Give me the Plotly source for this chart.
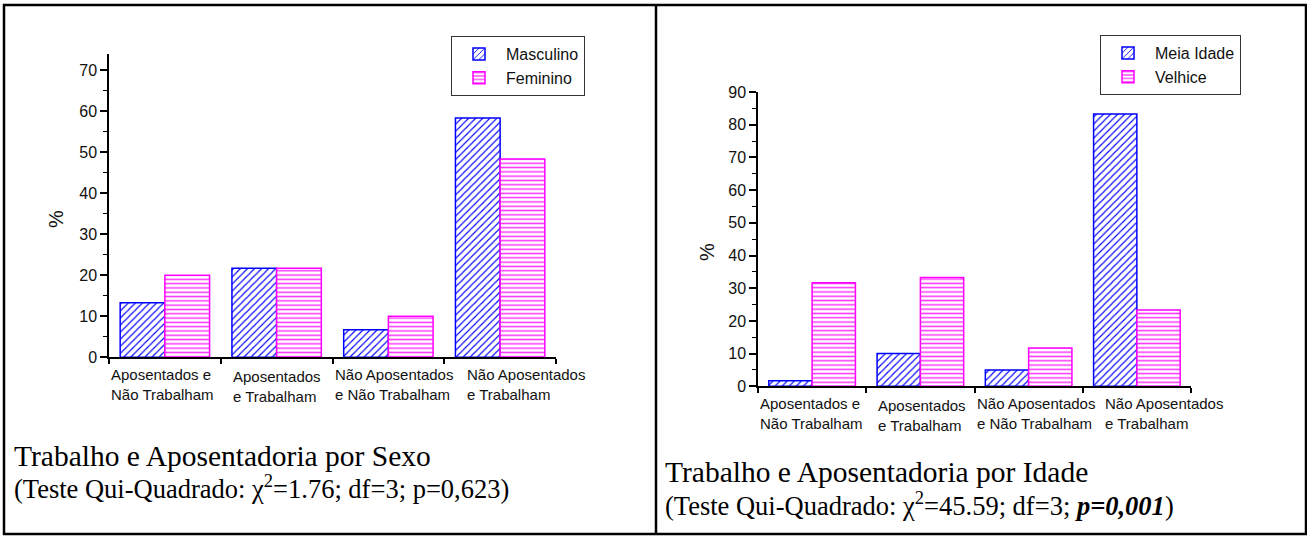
import plotly.graph_objects as go

# Situação de trabalho / aposentadoria (categorias do eixo x)
categorias = [
    "Aposentados e<br>Não Trabalham",
    "Aposentados<br>e Trabalham",
    "Não Aposentados<br>e Não Trabalham",
    "Não Aposentados<br>e Trabalham",
]

# Percentuais por sexo
masculino = [13.3, 21.7, 6.7, 58.3]
feminino = [20.0, 21.7, 10.0, 48.3]

# Percentuais por faixa etária
meia_idade = [1.7, 10.0, 5.0, 83.3]
velhice = [31.7, 33.3, 11.7, 23.3]

legenda_sexo = ["Masculino", "Feminino"]
legenda_idade = ["Meia Idade", "Velhice"]

titulo_sexo = "Trabalho e Aposentadoria por Sexo"
teste_sexo = "(Teste Qui-Quadrado: χ<sup>2</sup>=1.76; df=3; p=0,623)"
titulo_idade = "Trabalho e Aposentadoria por Idade"
teste_idade = "(Teste Qui-Quadrado: χ<sup>2</sup>=45.59; df=3; <b><i>p=0,001</i></b>)"

W, H = 1307, 537
SANS = "Liberation Sans, Arial, sans-serif"
SERIF = "Liberation Serif, Times New Roman, serif"
AZUL = "#0000ff"
ROSA = "#ff00ff"

pos = list(range(len(categorias)))
limites = [p - 0.5 for p in pos] + [pos[-1] + 0.5]


def px_x(v):
    return v / W


def px_y(v):
    return 1 - v / H


def barra_azul(nome, valores, xa, ya, leg):
    return go.Bar(
        x=pos, y=valores, name=nome, xaxis=xa, yaxis=ya, legend=leg,
        marker=dict(
            color="white",
            line=dict(color=AZUL, width=1.5),
            pattern=dict(shape="/", fgcolor=AZUL, bgcolor="white",
                         size=5, solidity=0.22, fgopacity=1),
        ),
    )


def barra_rosa(nome, valores, xa, ya, leg):
    return go.Bar(
        x=pos, y=valores, name=nome, xaxis=xa, yaxis=ya, legend=leg,
        marker=dict(
            color="white",
            line=dict(color=ROSA, width=1.5),
            pattern=dict(shape="-", fgcolor=ROSA, bgcolor="white",
                         size=4.3, solidity=0.35, fgopacity=0.8),
        ),
    )


fig = go.Figure()
fig.add_trace(barra_azul(legenda_sexo[0], masculino, "x", "y", "legend"))
fig.add_trace(barra_rosa(legenda_sexo[1], feminino, "x", "y", "legend"))
fig.add_trace(barra_azul(legenda_idade[0], meia_idade, "x2", "y2", "legend2"))
fig.add_trace(barra_rosa(legenda_idade[1], velhice, "x2", "y2", "legend2"))

eixo_x = dict(
    range=[limites[0], limites[-1]], tickmode="array", tickvals=limites,
    showticklabels=False, ticks="outside", ticklen=5, tickwidth=1.5,
    tickcolor="black", showline=True, linecolor="black", linewidth=1.5,
    showgrid=False, zeroline=False, fixedrange=True, automargin=False,
)
eixo_x_dentro = dict(
    range=[limites[0], limites[-1]], tickmode="array", tickvals=limites,
    showticklabels=False, ticks="inside", ticklen=4, tickwidth=1.5,
    tickcolor="black", showline=False, showgrid=False, zeroline=False,
    automargin=False,
)
eixo_y = dict(
    dtick=10, tick0=0, ticks="outside", ticklen=7, tickwidth=1.5,
    tickcolor="black", showline=True, linecolor="black", linewidth=1.5,
    showgrid=False, zeroline=False, automargin=False,
    tickfont=dict(family=SANS, size=16, color="#111"),
    minor=dict(ticks="outside", ticklen=4, dtick=5, tickwidth=1.2,
               tickcolor="black", showgrid=False),
)

dom_x1 = [px_x(109), px_x(556)]
dom_y1 = [px_y(357.3), px_y(53.6)]
dom_x2 = [px_x(758), px_x(1191)]
dom_y2 = [px_y(386.3), px_y(92)]

legenda_base = dict(
    xanchor="left", yanchor="top",
    bordercolor="#333", borderwidth=1, bgcolor="white",
    font=dict(family=SANS, size=16, color="#111"),
    itemwidth=44, tracegroupgap=0,
)

fig.update_layout(
    width=W, height=H,
    margin=dict(l=0, r=0, t=0, b=0, pad=0, autoexpand=False),
    paper_bgcolor="white", plot_bgcolor="white",
    barmode="group", bargap=0.2, bargroupgap=0,
    xaxis=dict(eixo_x, domain=dom_x1, anchor="y"),
    yaxis=dict(eixo_y, domain=dom_y1, anchor="x", range=[0, 74]),
    xaxis2=dict(eixo_x, domain=dom_x2, anchor="y2"),
    yaxis2=dict(eixo_y, domain=dom_y2, anchor="x2", range=[0, 90]),
    xaxis3=dict(eixo_x_dentro, domain=dom_x1, anchor="y", overlaying="x"),
    xaxis4=dict(eixo_x_dentro, domain=dom_x2, anchor="y2", overlaying="x2"),
    legend=dict(legenda_base, x=px_x(451), y=px_y(36)),
    legend2=dict(legenda_base, x=px_x(1100), y=px_y(35)),
    showlegend=True,
)

# Rótulos das categorias, alinhados à esquerda sob cada grupo
desloc = [-0.5, 0.59, 1.5, 2.69]
topo_sexo = [364, 366, 364, 364]
topo_idade = [393, 395, 393, 393]
for i, rot in enumerate(categorias):
    fig.add_annotation(
        x=desloc[i], xref="x", y=px_y(topo_sexo[i]), yref="paper",
        text=rot, showarrow=False, xanchor="left", yanchor="top",
        align="left", font=dict(family=SANS, size=15, color="#111"),
    )
    fig.add_annotation(
        x=desloc[i], xref="x2", y=px_y(topo_idade[i]), yref="paper",
        text=rot, showarrow=False, xanchor="left", yanchor="top",
        align="left", font=dict(family=SANS, size=15, color="#111"),
    )

# Títulos dos eixos y
for (cx, cy) in [(56, 219), (707, 252)]:
    fig.add_annotation(
        x=px_x(cx), y=px_y(cy), xref="paper", yref="paper", text="%",
        showarrow=False, textangle=-90, xanchor="center", yanchor="middle",
        font=dict(family=SANS, size=20, color="#111"),
    )

# Legendas dos gráficos (título e teste estatístico)
for (tx, ty, txt, tam) in [
    (12, 456, titulo_sexo, 29.5),
    (12, 487, teste_sexo, 26.5),
    (663, 472, titulo_idade, 29.5),
    (663, 504, teste_idade, 26.5),
]:
    fig.add_annotation(
        x=px_x(tx), y=px_y(ty), xref="paper", yref="paper", text=txt,
        showarrow=False, xanchor="left", yanchor="middle", align="left",
        font=dict(family=SERIF, size=tam, color="black"),
    )

# Moldura dos dois painéis
fig.add_shape(type="rect", xref="paper", yref="paper",
              x0=px_x(4), x1=px_x(1306), y0=px_y(534), y1=px_y(5),
              line=dict(color="black", width=2.5), layer="above")
fig.add_shape(type="line", xref="paper", yref="paper",
              x0=px_x(656), x1=px_x(656), y0=px_y(534), y1=px_y(5),
              line=dict(color="black", width=2.5), layer="above")

fig.write_html("out.html")
